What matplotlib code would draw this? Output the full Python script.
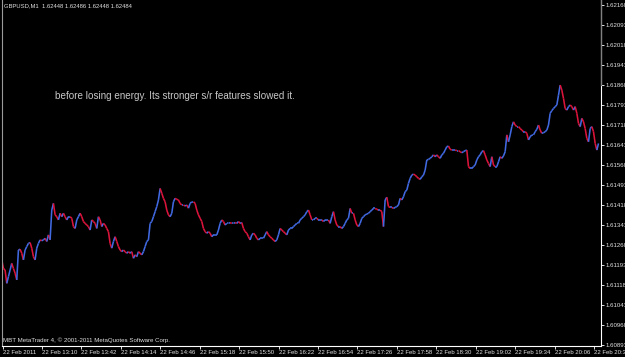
import numpy as np
import matplotlib
matplotlib.use('Agg')
import matplotlib.pyplot as plt
from matplotlib.collections import LineCollection

plt.rcParams['font.family'] = ['Liberation Sans', 'DejaVu Sans']

# chart header
symbol = 'GBPUSD,M1'
last_bar = [1.62448, 1.62486, 1.62448, 1.62484]  # open high low close

# closes, left to right
close = [
    1.61212, 1.61180, 1.61174, 1.61124, 1.61149, 1.61174, 1.61199, 1.61180, 1.61162, 1.61137,
    1.61249, 1.61252, 1.61237, 1.61212, 1.61249, 1.61262, 1.61274, 1.61277, 1.61256, 1.61224,
    1.61212, 1.61256, 1.61274, 1.61287, 1.61284, 1.61287, 1.61293, 1.61281, 1.61306, 1.61287,
    1.61399, 1.61424, 1.61381, 1.61374, 1.61362, 1.61387, 1.61374, 1.61387, 1.61374, 1.61362,
    1.61374, 1.61374, 1.61368, 1.61337, 1.61330, 1.61362, 1.61374, 1.61387, 1.61374, 1.61356,
    1.61349, 1.61343, 1.61337, 1.61324, 1.61362, 1.61356, 1.61349, 1.61330, 1.61374, 1.61362,
    1.61337, 1.61349, 1.61343, 1.61330, 1.61318, 1.61274, 1.61256, 1.61281, 1.61299, 1.61281,
    1.61262, 1.61249, 1.61243, 1.61249, 1.61243, 1.61237, 1.61243, 1.61237, 1.61243, 1.61218,
    1.61231, 1.61224, 1.61243, 1.61237, 1.61231, 1.61243, 1.61262, 1.61281, 1.61287,
    1.61349, 1.61356, 1.61374, 1.61393, 1.61412, 1.61437, 1.61480, 1.61462, 1.61443, 1.61430,
    1.61399, 1.61381, 1.61374, 1.61387, 1.61430, 1.61443, 1.61439, 1.61437, 1.61424, 1.61418,
    1.61418, 1.61414, 1.61418, 1.61406, 1.61424, 1.61430, 1.61430, 1.61424, 1.61399, 1.61381,
    1.61368, 1.61356, 1.61330, 1.61318, 1.61312, 1.61318, 1.61312, 1.61299, 1.61306, 1.61306,
    1.61306, 1.61324, 1.61349, 1.61362, 1.61356, 1.61343, 1.61349, 1.61349, 1.61352, 1.61349,
    1.61349, 1.61352, 1.61349, 1.61356, 1.61349, 1.61352, 1.61330, 1.61318, 1.61312, 1.61299,
    1.61287, 1.61306, 1.61312, 1.61306, 1.61293, 1.61287, 1.61293, 1.61293, 1.61293, 1.61306,
    1.61318, 1.61306, 1.61299, 1.61293, 1.61287, 1.61281, 1.61287, 1.61306, 1.61330, 1.61324,
    1.61318, 1.61312, 1.61306, 1.61324, 1.61330, 1.61330, 1.61337, 1.61343, 1.61349, 1.61349,
    1.61362, 1.61368, 1.61374, 1.61381, 1.61393, 1.61399, 1.61381, 1.61362, 1.61362, 1.61368,
    1.61368, 1.61362, 1.61362, 1.61362, 1.61356, 1.61362, 1.61362, 1.61362, 1.61349, 1.61374,
    1.61393, 1.61362, 1.61343, 1.61337, 1.61337, 1.61330, 1.61337, 1.61349, 1.61362, 1.61368,
    1.61405, 1.61387, 1.61387, 1.61362, 1.61343, 1.61337, 1.61349, 1.61368, 1.61374, 1.61381,
    1.61384, 1.61387, 1.61393, 1.61399, 1.61405, 1.61405, 1.61402, 1.61399, 1.61399, 1.61393,
    1.61337, 1.61437, 1.61447, 1.61412, 1.61409, 1.61409, 1.61405, 1.61409, 1.61412, 1.61418,
    1.61443, 1.61437, 1.61449, 1.61468, 1.61474, 1.61499, 1.61518, 1.61530, 1.61534, 1.61530,
    1.61524, 1.61518, 1.61514, 1.61524, 1.61530, 1.61549, 1.61587, 1.61589, 1.61593, 1.61599,
    1.61606, 1.61599, 1.61606, 1.61599, 1.61593, 1.61606, 1.61612, 1.61624, 1.61637, 1.61639,
    1.61627, 1.61624, 1.61624, 1.61624, 1.61622, 1.61622, 1.61618, 1.61614, 1.61618, 1.61622,
    1.61624, 1.61562, 1.61555, 1.61555, 1.61562, 1.61568, 1.61587, 1.61599, 1.61606, 1.61618,
    1.61622, 1.61606, 1.61587, 1.61574, 1.61562, 1.61599, 1.61568, 1.61562, 1.61562, 1.61580,
    1.61599, 1.61593, 1.61602, 1.61618, 1.61681, 1.61655, 1.61681, 1.61712, 1.61730, 1.61718,
    1.61712, 1.61712, 1.61705, 1.61699, 1.61693, 1.61693, 1.61687, 1.61662, 1.61674, 1.61681,
    1.61681, 1.61693, 1.61702, 1.61718, 1.61699, 1.61687, 1.61689, 1.61693, 1.61699, 1.61718,
    1.61762, 1.61772, 1.61780, 1.61787, 1.61793, 1.61830, 1.61868, 1.61849, 1.61818, 1.61780,
    1.61774, 1.61787, 1.61793, 1.61787, 1.61774, 1.61787, 1.61762, 1.61724, 1.61712, 1.61743,
    1.61730, 1.61705, 1.61668, 1.61655, 1.61705, 1.61712, 1.61693, 1.61649, 1.61624, 1.61649,
]
start_min = 757.3   # minutes after midnight of the first traced close
step_min = 1.353    # minutes between traced closes

time_labels = ['22 Feb 2011', '22 Feb 13:10', '22 Feb 13:42', '22 Feb 14:14',
               '22 Feb 14:46', '22 Feb 15:18', '22 Feb 15:50', '22 Feb 16:22',
               '22 Feb 16:54', '22 Feb 17:26', '22 Feb 17:58', '22 Feb 18:30',
               '22 Feb 19:02', '22 Feb 19:34', '22 Feb 20:06', '22 Feb 20:38']
first_tick_min = 758  # 12:38
tick_every_min = 32

price_ticks = [1.62168, 1.62093, 1.62018, 1.61943, 1.61868, 1.61793, 1.61718,
               1.61643, 1.61568, 1.61493, 1.61418, 1.61343, 1.61268, 1.61193,
               1.61118, 1.61043, 1.60968, 1.60893]

note = 'before losing energy. Its stronger s/r features slowed it.'
copyright_txt = 'MBT MetaTrader 4, \u00a9 2001-2011 MetaQuotes Software Corp.'

up_color = '#4169e1'
down_color = '#dc143c'
fg = '#e0e0e0'

fig = plt.figure(figsize=(6.25, 3.57), dpi=100, facecolor='black')
ax = fig.add_axes([2 / 625, 11 / 357, 599 / 625, 346 / 357], facecolor='black')

y = np.array(close)
t = start_min + step_min * np.arange(len(y))
pts = np.column_stack([t, y])
segs = np.stack([pts[:-1], pts[1:]], axis=1)
cols = [up_color if b >= a else down_color for a, b in zip(y[:-1], y[1:])]
lc = LineCollection(segs, colors=cols, linewidths=1.15, capstyle='butt')
ax.add_collection(lc)

ax.set_xlim(757.5, 1243.7)
ax.set_ylim(1.60889, 1.62187)

# time axis
xt = [first_tick_min + k * tick_every_min for k in range(len(time_labels))]
ax.set_xticks(xt)
ax.set_xticklabels(time_labels)
for lbl in ax.get_xticklabels():
    lbl.set_ha('left')
ax.tick_params(axis='x', colors=fg, labelsize=4.3, length=2.5, width=0.7, pad=0.5)

# price axis on the right
ax.yaxis.tick_right()
ax.set_yticks(price_ticks)
ax.set_yticklabels(['%.5f' % p for p in price_ticks])
ax.tick_params(axis='y', colors=fg, labelsize=4.4, length=2.5, width=0.7, pad=1)

ax.spines['top'].set_visible(False)
ax.spines['left'].set_color('#9a9a9a')
ax.spines['bottom'].set_color('white')
ax.spines['right'].set_color('white')
for s in ['left', 'bottom', 'right']:
    ax.spines[s].set_linewidth(0.8)
ax.plot([1, 1], [0.754, 1], transform=ax.transAxes, color='#808080',
        lw=0.9, clip_on=False, zorder=5)

head = symbol + '  ' + ' '.join('%.5f' % v for v in last_bar)
fig.text(4 / 625, 1 - 6 / 357, head, color=fg, fontsize=4.2, va='center', ha='left')
fig.text(55 / 625, 1 - 96 / 357, note, color='#c8c8c8', fontsize=7.1,
         va='center', ha='left')
fig.text(3 / 625, 1 - 340 / 357, copyright_txt, color=fg, fontsize=4.4,
         va='center', ha='left')

fig.savefig('out.png', dpi=100, facecolor='black')
